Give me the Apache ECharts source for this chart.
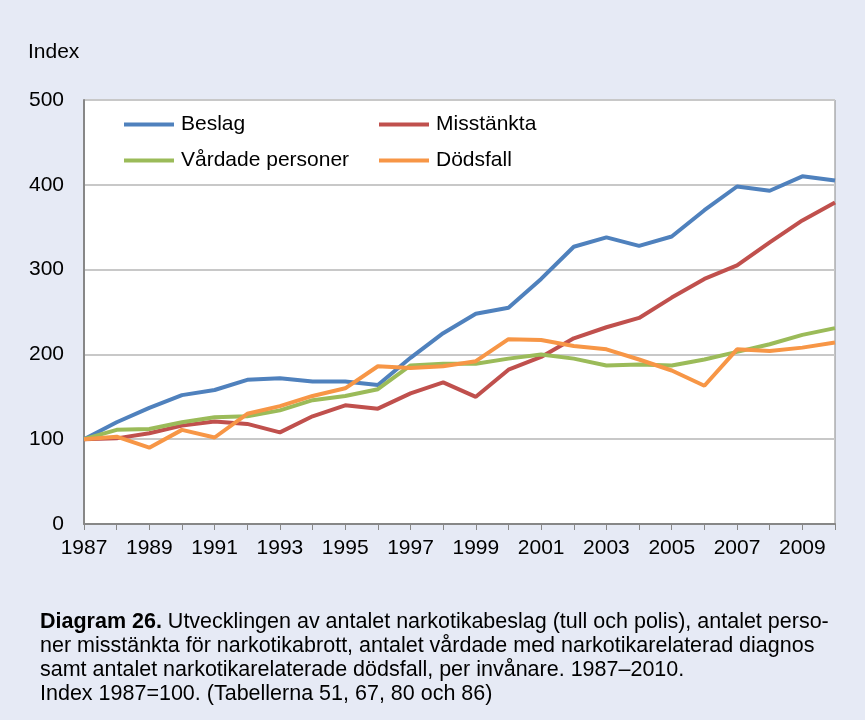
<!DOCTYPE html>
<html lang="sv">

<head>
    <meta charset="UTF-8">
    <title>Diagram 26</title>
    <script src="https://cdn.jsdelivr.net/npm/echarts@6/dist/echarts.min.js"></script>
    <style>
        html, body { margin: 0; padding: 0; background: #e6eaf5; }
    </style>
</head>

<body>
    <div id="chart" style="width:865px;height:720px;"></div>
</body>
<script>
    // år 1987-2010
    var years = ['1987', '1988', '1989', '1990', '1991', '1992', '1993', '1994', '1995', '1996', '1997', '1998',
        '1999', '2000', '2001', '2002', '2003', '2004', '2005', '2006', '2007', '2008', '2009', '2010'];

    var beslag = [100, 120, 137, 152, 158, 170, 172, 168, 168, 164, 196, 225,
        248, 255, 289, 327, 338, 328, 339, 370, 398, 393, 410, 405];
    var misstankta = [100, 101, 107, 116, 121, 118, 108, 127, 140, 136, 154, 167,
        150, 182, 197, 219, 232, 243, 267, 289, 305, 332, 358, 379];
    var vardade = [100, 111, 112, 120, 126, 127, 134, 146, 151, 159, 187, 189,
        189, 195, 200, 195, 187, 188, 187, 194, 203, 212, 223, 231];
    var dodsfall = [100, 103, 90, 111, 102, 130, 139, 151, 160, 186, 184, 186,
        192, 218, 217, 210, 206, 194, 181, 163, 206, 204, 208, 214];

    var yTicks = [0, 100, 200, 300, 400, 500];

    var chart = echarts.init(document.getElementById('chart'));

    var FONT = 'Liberation Sans, Arial, sans-serif';

    function legendAt(name, left, top) {
        return {
            data: [name],
            left: left,
            top: top,
            itemWidth: 50,
            itemHeight: 4,
            itemGap: 0,
            icon: 'rect',
            textStyle: { fontSize: 21, color: '#000', fontFamily: FONT, padding: [0, 0, 0, 2] }
        };
    }

    function line(name, data, color) {
        return {
            name: name,
            type: 'line',
            data: data,
            symbol: 'none',
            lineStyle: { width: 4, color: color },
            itemStyle: { color: color }
        };
    }

    var option = {
        backgroundColor: '#e6eaf5',
        animation: false,
        textStyle: { fontFamily: FONT },
        title: {
            text: 'Index',
            left: 23,
            top: 37,
            textStyle: { fontSize: 21, fontWeight: 'normal', color: '#000', fontFamily: FONT }
        },
        legend: [
            legendAt('Beslag', 119, 109),
            legendAt('Misstänkta', 374, 109),
            legendAt('Vårdade personer', 119, 145),
            legendAt('Dödsfall', 374, 145)
        ],
        grid: {
            left: 84,
            right: 30,
            top: 100,
            bottom: 196,
            show: true,
            backgroundColor: '#fff',
            borderColor: '#878787',
            borderWidth: 1
        },
        xAxis: {
            type: 'category',
            data: years,
            boundaryGap: false,
            axisLine: { lineStyle: { color: '#878787', width: 2 } },
            axisTick: { length: 6, interval: 0, lineStyle: { color: '#878787' } },
            axisLabel: { interval: 1, fontSize: 21, color: '#000', margin: 14, fontFamily: FONT },
            splitLine: { show: false }
        },
        yAxis: {
            type: 'value',
            min: yTicks[0],
            max: yTicks[yTicks.length - 1],
            interval: 100,
            axisLine: { show: true, lineStyle: { color: '#878787', width: 2 } },
            axisTick: { show: false },
            axisLabel: { fontSize: 21, color: '#000', margin: 20, fontFamily: FONT },
            splitLine: { lineStyle: { color: '#c8c8c8', width: 2 } }
        },
        series: [
            line('Beslag', beslag, '#4f81bd'),
            line('Misstänkta', misstankta, '#c0504d'),
            line('Vårdade personer', vardade, '#9bbb59'),
            line('Dödsfall', dodsfall, '#f79646')
        ],
        graphic: [{
            type: 'text',
            left: 40,
            top: 610,
            style: {
                text: '{b|Diagram 26.} Utvecklingen av antalet narkotikabeslag (tull och polis), antalet perso-\n' +
                    'ner misstänkta för narkotikabrott, antalet vårdade med narkotikarelaterad diagnos\n' +
                    'samt antalet narkotikarelaterade dödsfall, per invånare. 1987–2010.\n' +
                    'Index 1987=100. (Tabellerna 51, 67, 80 och 86)',
                fontSize: 21.5,
                lineHeight: 24,
                fill: '#000',
                fontFamily: FONT,
                rich: {
                    b: {
                        fontWeight: 'bold',
                        fontSize: 21.5,
                        lineHeight: 24,
                        fontFamily: FONT
                    }
                }
            }
        }]
    };

    chart.setOption(option);
</script>

</html>
